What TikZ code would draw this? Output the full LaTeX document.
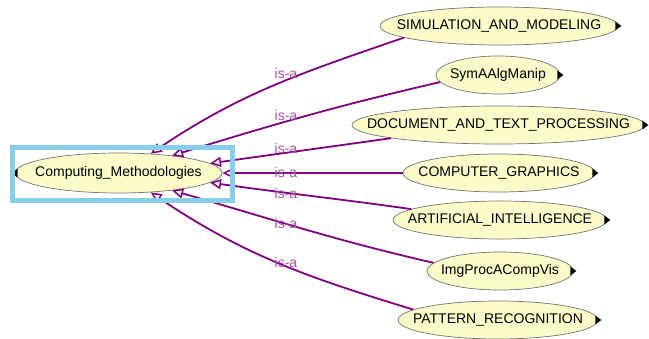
\documentclass[tikz,border=0pt]{standalone}
\usepackage{fontspec}
\setmainfont{Liberation Sans}
\usetikzlibrary{arrows.meta,shapes.geometric}
\definecolor{conceptfill}{RGB}{252,250,200}
\definecolor{isaline}{RGB}{128,0,128}
\definecolor{isalabel}{RGB}{165,80,165}
\definecolor{selblue}{RGB}{135,206,235}
\tikzset{
  concept/.style={ellipse, draw=black!55, line width=0.7pt, fill=conceptfill,
    minimum height=38pt, inner sep=0pt, font=\fontsize{14}{16}\selectfont},
  isa/.style={draw=isaline, line width=1.8pt,
    -{Triangle[open,length=11pt,width=10pt,line width=1.5pt]}},
  isalbl/.style={text=isalabel, inner sep=0pt, font=\fontsize{14}{16}\selectfont},
  selbox/.style={draw=selblue, line width=4.5pt},
  expander/.style={fill=black}
}
\begin{document}
\begin{tikzpicture}[x=1pt,y=1pt]
  \useasboundingbox (0,0) rectangle (649,338);

  % parent concept
  \node[concept, minimum width=207pt, minimum height=40pt] (cm) at (118.5,165)
    {\makebox[0pt]{Computing\_Methodologies}};

  % sub-concepts
  \node[concept, minimum width=238pt] (sim)  at (499,312)   {\makebox[0pt]{SIMULATION\_AND\_MODELING}};
  \node[concept, minimum width=124pt] (sym)  at (498,263)   {\makebox[0pt]{SymAAlgManip}};
  \node[concept, minimum width=293pt] (doc)  at (498.5,213) {\makebox[0pt]{DOCUMENT\_AND\_TEXT\_PROCESSING}};
  \node[concept, minimum width=192pt] (comp) at (499,165)   {\makebox[0pt]{COMPUTER\_GRAPHICS}};
  \node[concept, minimum width=214pt] (ai)   at (500,118)   {\makebox[0pt]{ARTIFICIAL\_INTELLIGENCE}};
  \node[concept, minimum width=146pt] (img)  at (500,67)    {\makebox[0pt]{ImgProcACompVis}};
  \node[concept, minimum width=200pt] (pat)  at (498,18)    {\makebox[0pt]{PATTERN\_RECOGNITION}};

  % expand markers sitting on the ellipse rims
  \foreach \n in {sim,sym,doc,comp,ai,img,pat}
    \fill[expander, shift={(\n.east)}] (-3,4.5) -- (3,0) -- (-3,-4.5) -- cycle;
  \fill[expander, shift={(cm.west)}] (3,4.5) -- (-3,0) -- (3,-4.5) -- cycle;

  % is-a relations
  \draw[isa] (sim.187)   to[out=199,in=34]  (cm.31);
  \draw[isa] (sym.187)   to[out=193,in=17]  (cm.18);
  \draw[isa] (doc.187)   to[out=188,in=8]   (cm.6.5);
  \draw[isa] (comp.west) -- (cm.east);
  \draw[isa] (ai.173)    to[out=172,in=-8]  (cm.-6.5);
  \draw[isa] (img.173)   to[out=167,in=-16] (cm.-18);
  \draw[isa] (pat.173)   to[out=163,in=-34] (cm.-31);

  % relation labels
  \node[isalbl] (l1) at (286,265) {is-a};
  \node[isalbl] (l2) at (286,223) {is-a};
  \node[isalbl] (l3) at (286,190) {is-a};
  \node[isalbl] (l4) at (286,166) {is-a};
  \node[isalbl] (l5) at (286,145) {is-a};
  \node[isalbl] (l6) at (286,115) {is-a};
  \node[isalbl] (l7) at (286,76)  {is-a};

  % selection frame
  \draw[selbox] (12.5,137.5) rectangle (232.5,190.5);
\end{tikzpicture}
\end{document}
